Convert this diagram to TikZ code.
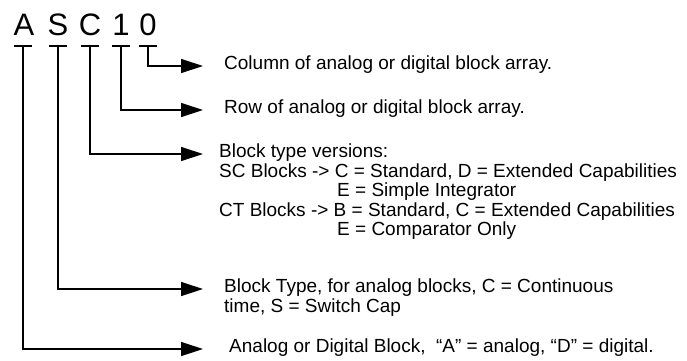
\documentclass[tikz,border=0pt]{standalone}
\usepackage{fontspec}
\setmainfont{Liberation Sans}
\usetikzlibrary{arrows.meta}
\begin{document}
\begin{tikzpicture}[x=1pt,y=-1pt,
  letter/.style={font=\fontsize{31}{36}\selectfont, anchor=base, inner sep=0pt},
  desc/.style={font=\fontsize{19}{19.5}\selectfont, anchor=north west, inner sep=0pt, align=left},
  bar/.style={line width=1.3pt},
  lead/.style={line width=1.3pt, -{Triangle[length=22pt,width=14pt]}}]
\useasboundingbox (0,0) rectangle (687,360);
% code letters
\node[letter] (lA) at (24,35) {A};
\node[letter] (lS) at (58,35) {S};
\node[letter] (lC) at (90,35) {C};
\node[letter] (l1) at (121,35) {1};
\node[letter] (l0) at (148,35) {0};
% tee points
\coordinate (tA) at (23,46);
\coordinate (tS) at (58,46);
\coordinate (tC) at (90,46);
\coordinate (t1) at (121,46);
\coordinate (t0) at (148,46);
\foreach \t in {tA,tS,tC,t1,t0}
  \draw[bar] ([xshift=-9pt]\t) -- ([xshift=9pt]\t);
% arrow ends
\coordinate (e0) at (203,66);
\coordinate (e1) at (203,110);
\coordinate (eC) at (203,154);
\coordinate (eS) at (203,289);
\coordinate (eA) at (203,349);
\draw[lead] (t0) |- (e0);
\draw[lead] (t1) |- (e1);
\draw[lead] (tC) |- (eC);
\draw[lead] (tS) |- (eS);
\draw[lead] (tA) |- (eA);
% descriptions
\node[desc] (d0) at (224,56) {Column of analog or digital block array.};
\node[desc] (d1) at (224,100) {Row of analog or digital block array.};
\node[desc] (dC) at (219,144) {Block type versions:\\
SC Blocks -> C = Standard, D = Extended Capabilities\\
\hspace*{118pt}E = Simple Integrator\\
CT Blocks -> B = Standard, C = Extended Capabilities\\
\hspace*{118pt}E = Comparator Only};
\node[desc] (dS) at (224,279) {Block Type, for analog blocks, C = Continuous\\
time, S = Switch Cap};
\node[desc] (dA) at (229,339) {Analog or Digital Block,\ \ “A” = analog, “D” = digital.};
\end{tikzpicture}
\end{document}
